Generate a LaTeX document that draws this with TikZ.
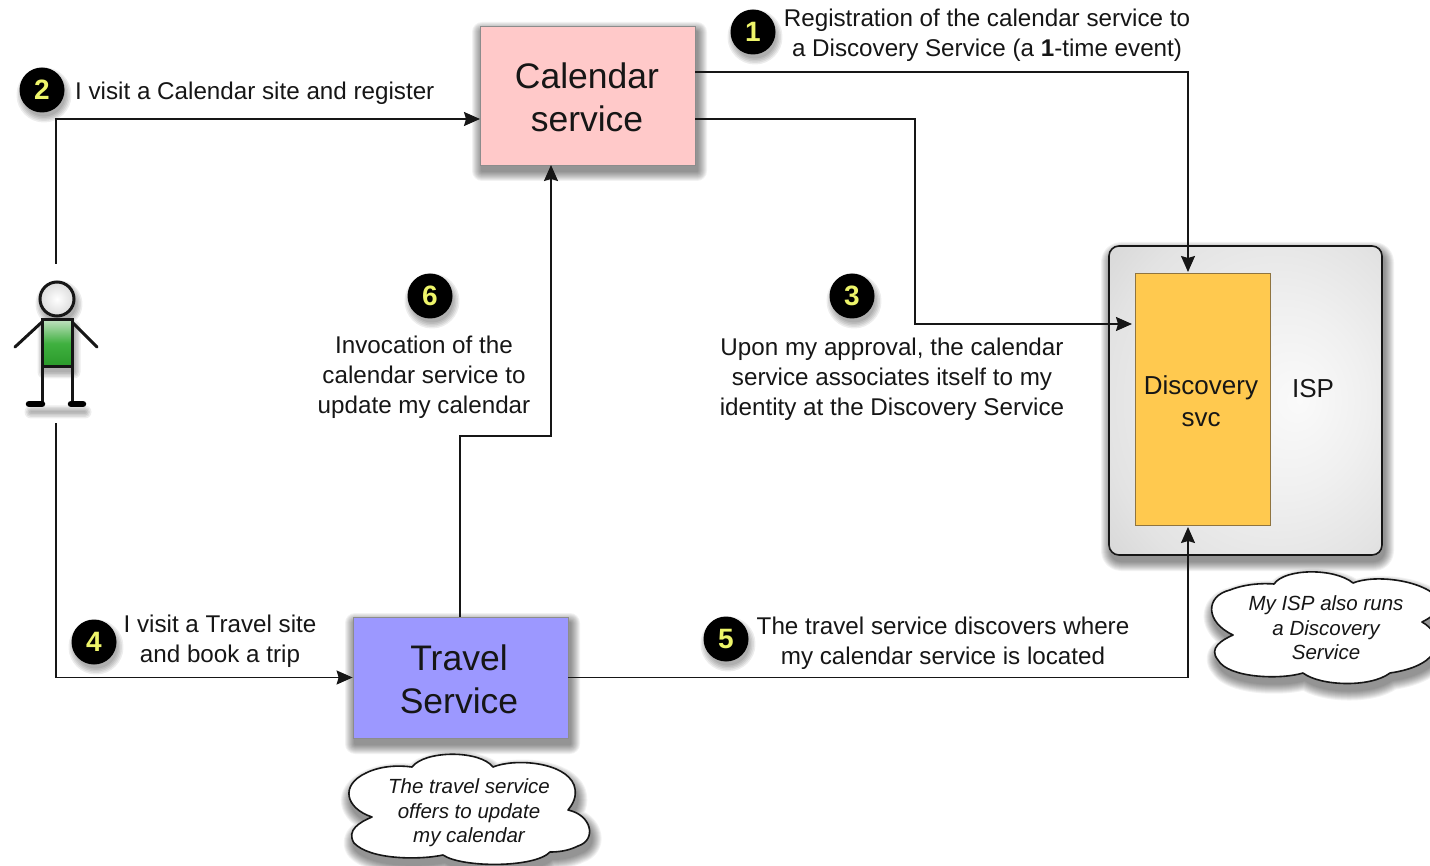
\documentclass[tikz,border=0pt]{standalone}
\usepackage{fontspec}
\setmainfont{Liberation Sans}
\usetikzlibrary{arrows.meta,calc}
\definecolor{inkc}{HTML}{161616}
\definecolor{calfill}{HTML}{FFC9C9}
\definecolor{travfill}{HTML}{9C98FF}
\definecolor{discfill}{HTML}{FFC94F}
\definecolor{discline}{HTML}{8F7440}
\definecolor{digitc}{HTML}{EEF56A}
\definecolor{shirttop}{HTML}{BFE0BF}
\definecolor{shirtmid}{HTML}{3FB03F}
\definecolor{shirtbot}{HTML}{2A9A2A}
\pgfdeclareradialshading{ispshade}{\pgfpoint{10bp}{0bp}}{color(0bp)=(black!2); color(15bp)=(black!6); color(30bp)=(black!11); color(42bp)=(black!18); color(50bp)=(black!25)}
\newcommand\softshadow[2][{(2,6)}]{%
  \foreach \w in {20,18,16,14,12,10,8,6,4,2}{%
    \begin{scope}[transparency group,opacity=.05]
    \path[fill=black,draw=black,line width=\w pt,line join=round,shift={#1}] #2;
    \end{scope}}}
\newcommand\smallshadow[2][{(2,5)}]{%
  \foreach \w in {13,10,7,4,1}{%
    \begin{scope}[transparency group,opacity=.07]
    \path[fill=black,draw=black,line width=\w pt,line join=round,line cap=round,shift={#1}] #2;
    \end{scope}}}
\newcommand\cloudisp{(1233,635) .. controls (1205,622) and (1205,596) .. (1230,590) .. controls (1245,584) and (1262,583) .. (1274,584)
  .. controls (1285,568) and (1335,568) .. (1353,583) .. controls (1375,574) and (1425,580) .. (1440,600)
  .. controls (1440,612) and (1430,618) .. (1422,622) .. controls (1445,635) and (1445,665) .. (1390,673)
  .. controls (1370,688) and (1320,686) .. (1303,673) .. controls (1280,680) and (1228,678) .. (1218,660)
  .. controls (1208,648) and (1222,640) .. (1233,635) -- cycle}
\newcommand\cloudtrav{(372,817) .. controls (345,808) and (340,785) .. (366,773) .. controls (380,766) and (398,765) .. (412,767)
  .. controls (425,750) and (480,750) .. (493,767) .. controls (515,758) and (565,762) .. (574,785)
  .. controls (578,797) and (572,805) .. (568,810) .. controls (592,815) and (597,840) .. (578,846)
  .. controls (568,851) and (558,852) .. (550,852) .. controls (535,868) and (462,868) .. (443,855)
  .. controls (420,860) and (370,860) .. (354,843) .. controls (346,830) and (360,822) .. (372,817) -- cycle}
\tikzset{
  x=1pt,y=-1pt,
  conn/.style={draw=inkc,line width=1.6pt,-{Stealth[length=16pt,width=14pt,inset=2pt]}},
  lbl/.style={text=inkc,align=center,inner sep=0pt,font=\fontsize{24.2}{30}\selectfont},
  biglbl/.style={text=inkc,align=center,font=\fontsize{35.5}{43}\selectfont},
  box/.style={draw=black!45,line width=.8pt,inner sep=0pt},
  badge/.style={circle,fill=black,minimum size=45pt,inner sep=0pt,text=digitc,font=\bfseries\fontsize{28}{28}\selectfont},
  cloudtxt/.style={text=inkc,align=center,inner sep=0pt,font=\itshape\fontsize{20.5}{24.5}\selectfont},
  cloudline/.style={fill=white,draw=inkc,line width=1.6pt,line join=round},
  limb/.style={draw=inkc,line width=3pt,line cap=round},
  foot/.style={draw=black,line width=6.5pt,line cap=round}
}
\begin{document}
\begin{tikzpicture}
\useasboundingbox (0,0) rectangle (1430,866);
\clip (0,0) rectangle (1430,866);
\fill[white] (0,0) rectangle (1430,866);

% shadows
\softshadow{(480,26) rectangle (695,165)}
\softshadow{(353,617) rectangle (568,738)}
\softshadow{[rounded corners=10pt] (1109,246) rectangle (1382,555)}

% ISP box
\draw[draw=inkc,line width=1.6pt,rounded corners=10pt,shading=ispshade] (1109,246) rectangle (1382,555);

% boxes
\node[box,fill=calfill,minimum width=215pt,minimum height=139pt] (calendar) at (587.5,95.5) {};
\node[biglbl] (calendartxt) at (587,97) {Calendar\\service};
\node[box,fill=travfill,minimum width=215pt,minimum height=121pt] (travel) at (460.5,677.5) {};
\node[biglbl] (traveltxt) at (459,679) {Travel\\Service};
\node[box,draw=discline,line width=1pt,fill=discfill,minimum width=135pt,minimum height=251pt] (disc) at (1202.5,399.5) {};
\node[text=inkc,align=center,inner sep=0pt,font=\fontsize{26}{32}\selectfont] (disctxt) at (1201,401) {Discovery\\svc};
\node[text=inkc,inner sep=0pt,font=\fontsize{26}{30}\selectfont] (isptxt) at (1313,389) {ISP};

% person
\node[minimum width=90pt,minimum height=159pt,inner sep=0pt] (person) at (56,343.5) {};
\smallshadow{(57,299) circle (17)}
\smallshadow{(42,322) rectangle (72,367)}
\smallshadow[{(2,8)}]{(29,404) -- (83,404)}
\draw[limb,inner color=white,outer color=black!14] (57,299) circle (17);
\draw[limb] (42,322) -- (15,347);
\draw[limb] (72,322) -- (97,347);
\draw[limb] (42,367) -- (42,404);
\draw[limb] (72,367) -- (72,404);
\draw[limb,top color=shirttop,bottom color=shirtbot,middle color=shirtmid] (42,320) rectangle (72,367);
\draw[foot] (29,404) -- (42,404);
\draw[foot] (71,404) -- (83,404);

% connector ends
\coordinate (calA) at (695,72);
\coordinate (calB) at (695,119);
\coordinate (calIn) at (480,119);
\coordinate (calUp) at (551,165);
\coordinate (trUp) at (460,617);
\coordinate (discTop) at (1188,272);
\coordinate (discLeft) at (1132,324);
\coordinate (discBot) at (1188,527);

\draw[conn] (calA) -| (discTop);
\draw[conn] (calB) -- (915,119) -- (915,324) -- (discLeft);
\draw[conn] (person.north) |- (calIn);
\draw[conn] (person.south) |- (travel.west);
\draw[conn] (trUp) -- (460,436) -- (551,436) -- (calUp);
\draw[conn] (travel.east) -| (discBot);

% badges
\foreach \p in {(753,32),(42,90),(852,296),(94,642),(726,639),(430,296)}{
  \smallshadow{\p circle (21)}
}
\node[badge] (b1) at (753,32) {1};
\node[badge] (b2) at (42,90) {2};
\node[badge] (b3) at (852,296) {3};
\node[badge] (b4) at (94,642) {4};
\node[badge] (b5) at (726,639) {5};
\node[badge] (b6) at (430,296) {6};

% labels
\node[lbl] (l1) at (987,35) {Registration of the calendar service to\\a Discovery Service (a \textbf{1}-time event)};
\node[lbl,anchor=west] (l2) at (75,93) {I visit a Calendar site and register};
\node[lbl] (l3) at (892,379) {Upon my approval, the calendar\\service associates itself to my\\identity at the Discovery Service};
\node[lbl] (l4) at (220,641) {I visit a Travel site\\and book a trip};
\node[lbl] (l5) at (943,643) {The travel service discovers where\\my calendar service is located};
\node[lbl] (l6) at (424,377) {Invocation of the\\calendar service to\\update my calendar};

% clouds
\softshadow[{(2,7)}]{\cloudisp}
\draw[cloudline] \cloudisp;
\node[cloudtxt] (c1) at (1326,628) {My ISP also runs\\a Discovery\\Service};
\softshadow[{(2,7)}]{\cloudtrav}
\draw[cloudline] \cloudtrav;
\node[cloudtxt] (c2) at (469,813) {The travel service\\offers to update\\my calendar};
\end{tikzpicture}
\end{document}
